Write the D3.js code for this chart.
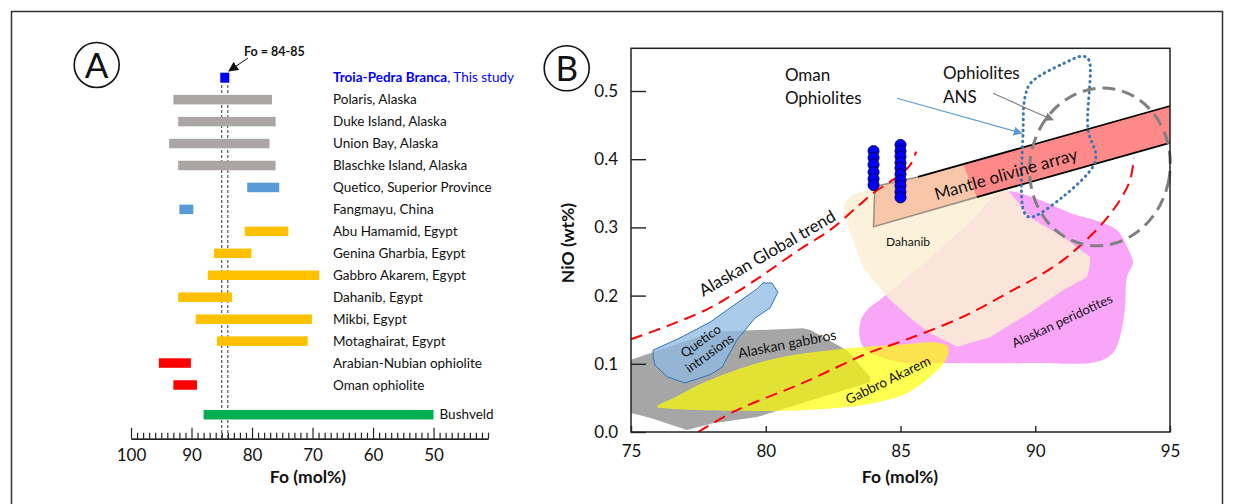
<!DOCTYPE html>
<html>
<head>
<meta charset="utf-8">
<script src="https://cdn.jsdelivr.net/npm/d3@7"></script>
<style>
  body { margin: 0; background: #fff; }
  svg { display: block; }
  text { font-family: Lato, "Open Sans", sans-serif; fill: #111; }
</style>
</head>
<body>
<svg id="chart" width="1235" height="504"></svg>
<script>
// ---------- Panel A: olivine Fo ranges by locality ----------
const localities = [
  "Troia-Pedra Branca", "Polaris, Alaska", "Duke Island, Alaska", "Union Bay, Alaska",
  "Blaschke Island, Alaska", "Quetico, Superior Province", "Fangmayu, China",
  "Abu Hamamid, Egypt", "Genina Gharbia, Egypt", "Gabbro Akarem, Egypt", "Dahanib, Egypt",
  "Mikbi, Egypt", "Motaghairat, Egypt", "Arabian-Nubian ophiolite", "Oman ophiolite", "Bushveld"
];
const foHigh = [85, 93.0, 92.2, 93.7, 92.2, 80.8, 92.0, 81.2, 86.3, 87.3, 92.2, 89.3, 85.8, 95.4, 93.0, 88];
const foLow  = [84, 76.7, 76.1, 77.1, 76.1, 75.5, 89.7, 74.0, 80.1, 68.9, 83.3, 70.1, 70.8, 90.1, 89.1, 50];
const groups = ["study", "alaska", "alaska", "alaska", "alaska", "intrusion", "intrusion",
  "egypt", "egypt", "egypt", "egypt", "egypt", "egypt", "ophiolite", "ophiolite", "bushveld"];
const studyRange = [84, 85];
const axisATicks = [100, 90, 80, 70, 60, 50];

// ---------- Panel B: Fo vs NiO fields ----------
const peridotiteField = [[88.80,0.352],[90.18,0.340],[91.29,0.321],[92.40,0.308],[93.03,0.296],[93.52,0.262],
  [93.63,0.248],[93.40,0.227],[93.33,0.183],[93.14,0.139],[92.88,0.116],[92.29,0.103],[89.80,0.101],
  [86.73,0.101],[84.87,0.103],[83.61,0.125],[83.50,0.160],[83.76,0.179],[84.24,0.194],[86.09,0.255],[87.58,0.308]];
const dahanibField = [[82.94,0.336],[83.20,0.348],[83.87,0.356],[86.09,0.374],[88.32,0.387],[89.80,0.315],
  [91.03,0.286],[92.03,0.257],[92.03,0.245],[91.92,0.227],[91.03,0.208],[89.80,0.175],[88.32,0.139],
  [87.10,0.125],[86.09,0.145],[85.46,0.164],[84.61,0.194],[83.98,0.223],[83.61,0.242],[83.13,0.292],[82.87,0.321]];
const gabbroField = [[75.0,0.106],[78.04,0.147],[81.38,0.152],[81.64,0.150],[83.01,0.120],[83.87,0.081],
  [83.87,0.073],[79.68,0.022],[78.04,0.013],[77.08,0.003],[75.7,0.021],[75.0,0.028]];
const akaremField = [[75.96,0.037],[76.63,0.051],[77.67,0.072],[80.16,0.106],[82.87,0.122],[84.98,0.128],
  [86.35,0.131],[86.76,0.125],[86.69,0.106],[86.09,0.081],[85.24,0.057],[84.05,0.043],[83.13,0.037],
  [81.38,0.032],[78.93,0.031],[76.45,0.034]];
const queticoField = [[75.82,0.120],[76.82,0.138],[77.93,0.161],[78.93,0.189],[79.68,0.210],[79.90,0.2185],
  [80.23,0.2185],[80.45,0.205],[80.16,0.182],[79.60,0.167],[78.93,0.135],[78.38,0.095],[77.93,0.084],
  [77.0,0.072],[76.34,0.081],[75.89,0.098],[75.82,0.110]];
const mantleArray = [[85.65,0.374],[95,0.478],[95,0.424],[87.83,0.3444],[85.65,0.3205]];
const mantleUpper = [[85.65,0.374],[95,0.478]];
const mantleLower = [[87.83,0.3444],[95,0.424]];
const dahanibBox = [[84.0,0.301],[84.05,0.360],[85.65,0.374],[87.32,0.3927],[87.83,0.3444]];
const dahanibBoxEdge = [[85.65,0.374],[84.05,0.360],[84.0,0.301],[87.83,0.3444]];
const alaskanTrendUpper = [[75.0,0.136],[76.45,0.157],[77.93,0.182],[79.16,0.211],[80.16,0.2375],[81.27,0.268],
  [82.38,0.296],[83.39,0.330],[83.98,0.350],[84.61,0.367],[84.98,0.377],[85.36,0.3915],[85.58,0.411]];
const alaskanTrendLower = [[77.49,0.0],[78.93,0.032],[81.38,0.072],[83.87,0.117],[84.87,0.1305],[87.32,0.169],
  [89.17,0.208],[90.06,0.227],[91.03,0.252],[91.77,0.277],[92.51,0.3065],[93.14,0.340],[93.52,0.3695],[93.66,0.402]];
const omanField = [[89.62,0.491],[89.84,0.512],[91.03,0.540],[91.77,0.551],[91.99,0.5455],[91.96,0.443],
  [92.25,0.406],[92.14,0.389],[91.03,0.345],[89.81,0.315],[89.58,0.323],[89.55,0.443]];
const ansEllipse = { fo: 92.4, nio: 0.3886, foRadius: 2.6, nioRadius: 0.116, tilt: 10 };
const sampleFoA = [84, 84, 84, 84, 84, 84];
const sampleNiOA = [0.412, 0.402, 0.392, 0.381, 0.371, 0.362];
const sampleFoB = [85, 85, 85, 85, 85, 85, 85, 85, 85, 85];
const sampleNiOB = [0.421, 0.412, 0.404, 0.395, 0.387, 0.378, 0.369, 0.361, 0.352, 0.344];
const xTicksB = [75, 80, 85, 90, 95];
const yTicksB = [0, 0.1, 0.2, 0.3, 0.4, 0.5];

const groupColor = {
  study: "#0000ff", alaska: "#aba6a5", intrusion: "#5b9bd5",
  egypt: "#ffc000", ophiolite: "#ff0000", bushveld: "#00b050"
};

const svg = d3.select("#chart");

// outer border
svg.append("path")
  .attr("d", "M11.5,504 V11.5 H1222.5 V504")
  .attr("fill", "none").attr("stroke", "#333").attr("stroke-width", 1.5);

const defs = svg.append("defs");
function arrowMarker(id, color, size) {
  defs.append("marker").attr("id", id)
    .attr("viewBox", "0 0 10 10").attr("refX", 9).attr("refY", 5)
    .attr("markerUnits", "userSpaceOnUse")
    .attr("markerWidth", size).attr("markerHeight", size).attr("orient", "auto")
    .append("path").attr("d", "M0,0 L10,5 L0,10 z").attr("fill", color);
}
arrowMarker("arrowBlack", "#111", 10);
arrowMarker("arrowBlue", "#5b9bd5", 9);
arrowMarker("arrowGray", "#7f7f7f", 9);

function panelBadge(cx, cy, letter) {
  svg.append("circle").attr("cx", cx).attr("cy", cy).attr("r", 22.5)
    .attr("fill", "none").attr("stroke", "#111").attr("stroke-width", 1.6);
  svg.append("text").attr("x", cx).attr("y", cy).attr("dy", "0.36em")
    .attr("text-anchor", "middle").style("font-size", "35px").text(letter);
}

// ======================= Panel A =======================
const gA = svg.append("g");
const xA = d3.scaleLinear().domain([100, 41]).range([131, 488]);
const rowY = d3.scaleLinear().domain([0, 14]).range([77.7, 385]);
const rowPos = i => i < 15 ? rowY(i) : rowY(14) + 29.7;
const barH = 9.5;
const axisAY = 438.7;

panelBadge(96.7, 65, "A");

// dashed guides at the study range
studyRange.forEach(v => {
  gA.append("line").attr("x1", xA(v)).attr("x2", xA(v)).attr("y1", 85).attr("y2", axisAY)
    .attr("stroke", "#333").attr("stroke-width", 1).attr("stroke-dasharray", "3,2");
});

localities.forEach((name, i) => {
  const y = rowPos(i);
  const color = groupColor[groups[i]];
  if (groups[i] === "study") {
    gA.append("rect")
      .attr("x", xA(foHigh[i])).attr("width", xA(foLow[i]) - xA(foHigh[i]))
      .attr("y", y - 3.5).attr("height", 7)
      .attr("fill", color).attr("stroke", color).attr("stroke-width", 3);
  } else {
    gA.append("rect")
      .attr("x", xA(foHigh[i])).attr("width", xA(foLow[i]) - xA(foHigh[i]))
      .attr("y", y - barH / 2).attr("height", barH)
      .attr("fill", color);
  }
});

// locality labels
localities.forEach((name, i) => {
  const y = rowPos(i);
  const lx = groups[i] === "bushveld" ? xA(foLow[i]) + 6 : 333;
  const t = gA.append("text").attr("x", lx).attr("y", y).attr("dy", "0.35em")
    .style("font-size", "13.5px");
  if (groups[i] === "study") {
    t.append("tspan").text(name).style("font-weight", "bold").style("fill", "#0000ff");
    t.append("tspan").text(", This study").style("fill", "#0000ff");
  } else {
    t.text(name);
  }
});

// study range callout
gA.append("text").attr("x", 244).attr("y", 56).style("font-size", "12.5px")
  .style("font-weight", "bold").text(`Fo = ${studyRange[0]}-${studyRange[1]}`);
gA.append("line").attr("x1", 248).attr("y1", 58).attr("x2", 229).attr("y2", 71)
  .attr("stroke", "#111").attr("stroke-width", 1).attr("marker-end", "url(#arrowBlack)");

// Fo axis with minor ticks
const axA = gA.append("g").attr("transform", `translate(0,${axisAY})`);
axA.call(d3.axisBottom(xA).tickValues(d3.range(99, 40, -1).filter(v => v % 10 !== 0))
  .tickSize(-6).tickSizeOuter(0).tickFormat(""));
axA.call(g => g.selectAll(".tick line").attr("stroke", "#222").attr("stroke-width", 1.2));
const axAMajor = gA.append("g").attr("transform", `translate(0,${axisAY})`);
axAMajor.call(d3.axisBottom(xA).tickValues(axisATicks).tickSize(-11).tickSizeOuter(0).tickPadding(10));
axAMajor.select(".domain").attr("stroke", "#222").attr("stroke-width", 1.5);
axAMajor.selectAll(".tick line").attr("stroke", "#222").attr("stroke-width", 1.2);
axAMajor.selectAll(".tick text").style("font-size", "17px").style("font-family", "Lato, sans-serif").attr("fill", "#111");
gA.append("text").attr("x", 308).attr("y", 483).attr("text-anchor", "middle")
  .style("font-size", "17.5px").style("font-weight", "bold").text("Fo (mol%)");

// ======================= Panel B =======================
const gB = svg.append("g");
const xB = d3.scaleLinear().domain([75, 95]).range([631, 1170]);
const yB = d3.scaleLinear().domain([0, 0.5626]).range([432, 48.3]);
const lineB = d3.line().x(d => xB(d[0])).y(d => yB(d[1]));
const smoothClosed = d3.line().x(d => xB(d[0])).y(d => yB(d[1])).curve(d3.curveCatmullRomClosed.alpha(0.5));
const linearClosed = d3.line().x(d => xB(d[0])).y(d => yB(d[1])).curve(d3.curveLinearClosed);
const smoothOpen = d3.line().x(d => xB(d[0])).y(d => yB(d[1])).curve(d3.curveCatmullRom.alpha(0.5));

panelBadge(566.7, 68.3, "B");

gB.append("path").attr("d", smoothClosed(peridotiteField)).attr("fill", "#f9a6f9");
gB.append("path").attr("d", linearClosed(dahanibField)).attr("fill", "#fcefd4").attr("fill-opacity", 0.85)
  .attr("stroke-linejoin", "round");
gB.append("path").attr("d", linearClosed(gabbroField)).attr("fill", "#a6a6a6");
gB.append("path").attr("d", smoothClosed(akaremField)).attr("fill", "#ffff00").attr("fill-opacity", 0.68);
gB.append("path").attr("d", linearClosed(queticoField)).attr("fill", "#8fb9e3").attr("fill-opacity", 0.75)
  .attr("stroke", "#2e75b6").attr("stroke-width", 1);

// mantle olivine array band
gB.append("path").attr("d", linearClosed(mantleArray)).attr("fill", "#fe8989");
gB.append("path").attr("d", linearClosed(dahanibBox)).attr("fill", "#f8c7aa");
gB.append("path").attr("d", lineB(dahanibBoxEdge)).attr("fill", "none")
  .attr("stroke", "#9d928a").attr("stroke-width", 1.6);
[mantleUpper, mantleLower].forEach(seg => {
  gB.append("path").attr("d", lineB(seg)).attr("fill", "none").attr("stroke", "#000").attr("stroke-width", 1.8);
});

// Alaskan global trend envelope
[alaskanTrendUpper, alaskanTrendLower].forEach(c => {
  gB.append("path").attr("d", smoothOpen(c)).attr("fill", "none")
    .attr("stroke", "#ff0000").attr("stroke-width", 2).attr("stroke-dasharray", "12,7");
});

// Oman ophiolites field
gB.append("path").attr("d", smoothClosed(omanField)).attr("fill", "none")
  .attr("stroke", "#3b77b0").attr("stroke-width", 3).attr("stroke-dasharray", "0.5,5")
  .attr("stroke-linecap", "round");

// ANS ophiolites field
gB.append("ellipse")
  .attr("cx", 0).attr("cy", 0)
  .attr("rx", xB(ansEllipse.fo + ansEllipse.foRadius) - xB(ansEllipse.fo))
  .attr("ry", yB(ansEllipse.nio) - yB(ansEllipse.nio + ansEllipse.nioRadius))
  .attr("transform", `translate(${xB(ansEllipse.fo)},${yB(ansEllipse.nio)}) rotate(${ansEllipse.tilt})`)
  .attr("fill", "none").attr("stroke", "#808080").attr("stroke-width", 3).attr("stroke-dasharray", "13,7");

// analysed olivines
[[sampleFoA, sampleNiOA], [sampleFoB, sampleNiOB]].forEach(([fo, nio]) => {
  fo.forEach((f, i) => {
    gB.append("circle").attr("cx", xB(f)).attr("cy", yB(nio[i])).attr("r", 5.6)
      .attr("fill", "#0000ff").attr("stroke", "#000").attr("stroke-width", 0.7);
  });
});

// plot frame
gB.append("rect").attr("x", xB(75)).attr("y", yB(0.5626))
  .attr("width", xB(95) - xB(75)).attr("height", yB(0) - yB(0.5626))
  .attr("fill", "none").attr("stroke", "#222").attr("stroke-width", 1.5);

// axes
const axBx = gB.append("g").attr("transform", `translate(0,${yB(0)})`)
  .call(d3.axisBottom(xB).tickValues(xTicksB).tickSize(-6).tickSizeOuter(0).tickPadding(13));
const axBy = gB.append("g").attr("transform", `translate(${xB(75)},0)`)
  .call(d3.axisLeft(yB).tickValues(yTicksB).tickSize(-15).tickSizeOuter(0).tickPadding(13).tickFormat(d3.format(".1f")));
[axBx, axBy].forEach(a => {
  a.select(".domain").remove();
  a.selectAll(".tick line").attr("stroke", "#222").attr("stroke-width", 1.4);
  a.selectAll(".tick text").style("font-size", "17px").style("font-family", "Lato, sans-serif").attr("fill", "#111");
});
gB.append("text").attr("x", 900).attr("y", 483).attr("text-anchor", "middle")
  .style("font-size", "17.5px").style("font-weight", "bold").text("Fo (mol%)");
gB.append("text").attr("transform", "translate(574,243) rotate(-90)").attr("text-anchor", "middle")
  .style("font-size", "17.5px").style("font-weight", "bold").text("NiO (wt%)");

// field labels
function fieldLabel(fo, nio, angle, lines, size) {
  const t = gB.append("text")
    .attr("transform", `translate(${xB(fo)},${yB(nio)}) rotate(${angle})`)
    .attr("text-anchor", "middle").style("font-size", size + "px");
  lines.forEach((l, i) => {
    t.append("tspan").attr("x", 0).attr("y", (i - (lines.length - 1) / 2) * size * 1.15)
      .attr("dy", "0.35em").text(l);
  });
}
fieldLabel(88.91, 0.378, -16, ["Mantle olivine array"], 17);
fieldLabel(80.05, 0.262, -30, ["Alaskan Global trend"], 17);
fieldLabel(85.28, 0.2786, 0, ["Dahanib"], 12);
fieldLabel(77.75, 0.1246, -36, ["Quetico", "intrusions"], 13);
fieldLabel(80.79, 0.129, -11, ["Alaskan gabbros"], 14);
fieldLabel(84.54, 0.0762, -26, ["Gabbro Akarem"], 13.5);
fieldLabel(91.0, 0.163, -25, ["Alaskan peridotites"], 13);

// callouts
function callout(fo, nio, lines) {
  const t = gB.append("text").attr("x", xB(fo)).attr("y", yB(nio)).style("font-size", "17px");
  lines.forEach((l, i) => t.append("tspan").attr("x", xB(fo)).attr("dy", i === 0 ? "0.35em" : "1.37em").text(l));
}
callout(80.71, 0.5235, ["Oman", "Ophiolites"]);
callout(86.58, 0.526, ["Ophiolites", "ANS"]);
gB.append("line").attr("x1", xB(84.87)).attr("y1", yB(0.4893)).attr("x2", xB(89.5)).attr("y2", yB(0.438))
  .attr("stroke", "#5b9bd5").attr("stroke-width", 1.2).attr("marker-end", "url(#arrowBlue)");
gB.append("line").attr("x1", xB(88.43)).attr("y1", yB(0.4966)).attr("x2", xB(90.66)).attr("y2", yB(0.4575))
  .attr("stroke", "#7f7f7f").attr("stroke-width", 1.2).attr("marker-end", "url(#arrowGray)");
</script>
</body>
</html>
